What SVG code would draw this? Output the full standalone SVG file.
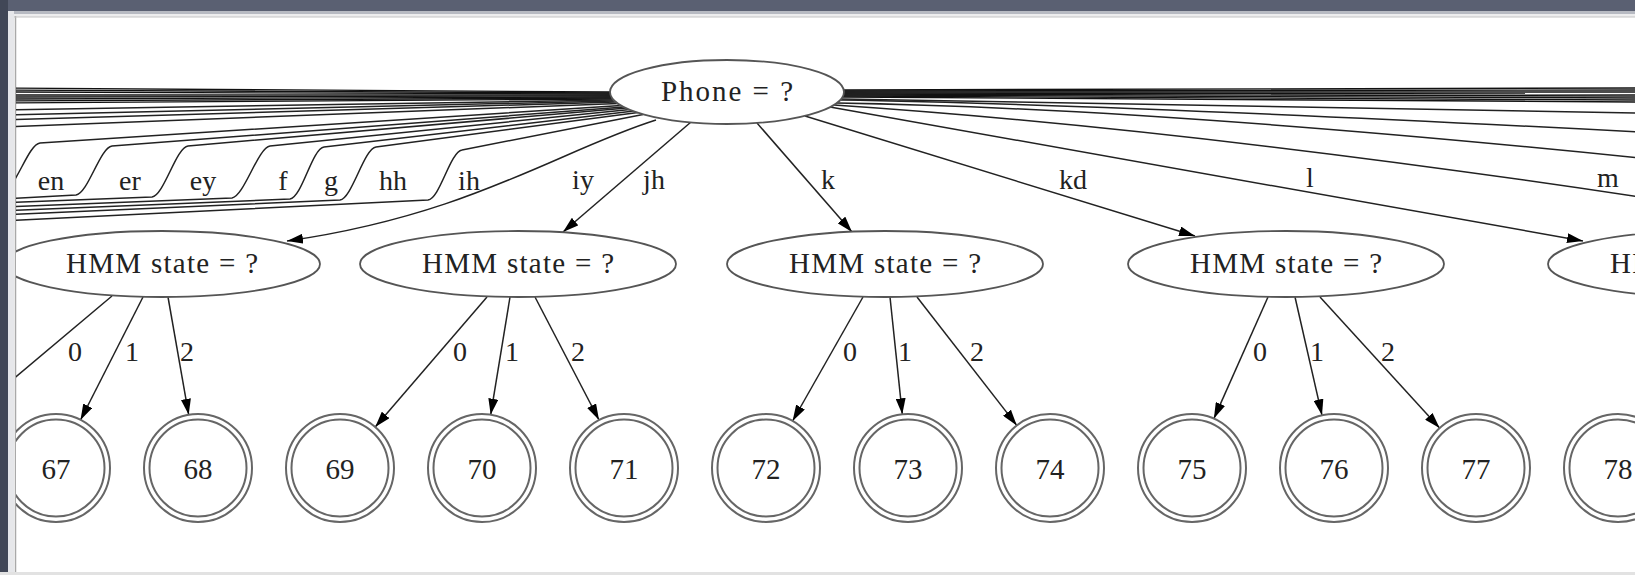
<svg xmlns="http://www.w3.org/2000/svg" width="1635" height="575" viewBox="0 0 1635 575">
  <defs>
    <style>
      .edge { fill: none; stroke: #222; stroke-width: 1.5; }
      .bundle { fill: none; stroke: #111; stroke-width: 1.4; }
      .arrow { marker-end: url(#ah); }
      .ell { fill: #fff; stroke: #555; stroke-width: 1.8; }
      .ring { fill: #fff; stroke: #666; stroke-width: 2; }
      .ring2 { fill: none; stroke: #666; stroke-width: 2; }
      text { font-family: "Liberation Serif", "Times New Roman", serif; fill: #222; text-anchor: middle; }
      .nlabel { font-size: 29px; }
      .elabel { font-size: 28px; }
      .leaf { font-size: 29px; }
    </style>
    <marker id="ah" viewBox="0 0 16 10" refX="16" refY="5" markerWidth="16" markerHeight="10" markerUnits="userSpaceOnUse" orient="auto">
      <path d="M0,0 L16,5 L0,10 z" fill="#000"/>
    </marker>
    <clipPath id="canvas">
      <rect x="16" y="18" width="1619" height="554"/>
    </clipPath>
  </defs>

  <!-- window frame -->
  <rect width="1635" height="575" fill="#fff"/>
  <rect x="0" y="0" width="1635" height="11" fill="#5a6072"/>
  <rect x="0" y="11" width="1635" height="3" fill="#b7bac2"/>
  <rect x="0" y="14" width="1635" height="3" fill="#ededee"/>
  <rect x="0" y="0" width="8" height="575" fill="#414757"/>
  <rect x="8" y="11" width="6" height="564" fill="#e6e7ea"/>
  <line x1="15.5" y1="16" x2="15.5" y2="575" stroke="#a9a9a9" stroke-width="1.5"/>
  <line x1="14" y1="17" x2="1635" y2="17" stroke="#c4c4c4" stroke-width="1.2"/>
  <rect x="0" y="572" width="1635" height="3" fill="#e2e2e2"/>

  <g clip-path="url(#canvas)">
    <g id="connectors">
      <!-- bundle of edges running left out of view -->
      <path class="bundle" d="M610,92 L0,88"/>
      <path class="bundle" d="M610,93 L0,90"/>
      <path class="bundle" d="M611,94 L0,92"/>
      <path class="bundle" d="M611,95 L0,95"/>
      <path class="bundle" d="M611,96 L0,97"/>
      <path class="bundle" d="M612,97 L0,99"/>
      <path class="bundle" d="M612,98 L0,101"/>
      <path class="bundle" d="M613,99 L0,103"/>
      <path class="edge" d="M613,100 L0,110"/>
      <path class="edge" d="M614,101 L0,115"/>
      <path class="edge" d="M616,102 L0,120"/>
      <path class="edge" d="M618,103.5 L0,127"/>

      <!-- edges that drop to the lower lane and continue left -->
      <path class="edge" d="M621,105.5 L40,143 C28,144.5 16,188.5 4,190 L-20,191"/>
      <path class="edge" d="M624,107 L112,146 C100,147.5 88,193.5 76,195 L0,199"/>
      <path class="edge" d="M627,108 L188,146 C176,147.5 164,195.5 152,197 L0,203"/>
      <path class="edge" d="M630,109.5 L270,146 C258,147.5 244,196.5 232,198 L0,207"/>
      <path class="edge" d="M634,111 L324,147 C312,148.5 302,197.5 290,199 L0,211"/>
      <path class="edge" d="M638,112.5 L376,147 C364,148.5 352,198.5 340,200 L0,215"/>
      <path class="edge" d="M643,114.5 L462,150 C450,152 440,198.5 428,200 L0,221"/>

      <!-- Phone -> HMM state edges -->
      <path class="edge arrow" d="M656,120 C560,150 470,215 287,241"/>
      <path class="edge arrow" d="M691,122 L563,232"/>
      <path class="edge arrow" d="M757,123 L852,232"/>
      <path class="edge arrow" d="M805,116 L1195,236"/>
      <path class="edge arrow" d="M830,107 L1583,241"/>

      <!-- edges running right out of view -->
      <path class="edge" d="M834,105 Q1180,128 1640,197"/>
      <path class="edge" d="M837,103 Q1150,108 1640,158"/>
      <path class="edge" d="M840,100 Q1100,104 1640,132"/>
      <path class="edge" d="M841,99 L1640,113"/>
      <path class="bundle" d="M842,97 L1640,102"/>
      <path class="bundle" d="M843,96 L1640,100"/>
      <path class="bundle" d="M843,95 L1640,98"/>
      <path class="bundle" d="M844,94 L1640,96"/>
      <path class="bundle" d="M844,93 L1640,94"/>
      <path class="bundle" d="M844,92 L1640,92"/>
      <path class="bundle" d="M844,91 L1640,90"/>
      <path class="bundle" d="M844,90 L1640,88"/>

      <!-- HMM state -> leaf edges -->
      <path class="edge" d="M112,296 L-40,424"/>
      <path class="edge arrow" d="M143,297 L80.5,420"/>
      <path class="edge arrow" d="M168,297 L188.7,414.8"/>
      <path class="edge arrow" d="M487,297 L375.2,427.1"/>
      <path class="edge arrow" d="M510,297 L490.7,414.7"/>
      <path class="edge arrow" d="M535,297 L599,420"/>
      <path class="edge arrow" d="M863,297 L792.6,421"/>
      <path class="edge arrow" d="M890,297 L902.3,414.3"/>
      <path class="edge arrow" d="M917,297 L1016.8,425.4"/>
      <path class="edge arrow" d="M1268,297 L1213.9,418.6"/>
      <path class="edge arrow" d="M1295,297 L1322,415.3"/>
      <path class="edge arrow" d="M1320,297 L1439.6,428.1"/>

      <!-- edge labels -->
      <g class="elabel">
        <text x="51" y="190" class="elabel">en</text>
        <text x="130" y="190" class="elabel">er</text>
        <text x="203" y="190" class="elabel">ey</text>
        <text x="283" y="190" class="elabel">f</text>
        <text x="331" y="190" class="elabel">g</text>
        <text x="393" y="190" class="elabel">hh</text>
        <text x="469" y="190" class="elabel">ih</text>
        <text x="583" y="189" class="elabel">iy</text>
        <text x="654" y="189" class="elabel">jh</text>
        <text x="828" y="189" class="elabel">k</text>
        <text x="1073" y="189" class="elabel">kd</text>
        <text x="1310" y="187" class="elabel">l</text>
        <text x="1608" y="187" class="elabel">m</text>

        <text x="75" y="361" class="elabel">0</text>
        <text x="132" y="361" class="elabel">1</text>
        <text x="187" y="361" class="elabel">2</text>
        <text x="460" y="361" class="elabel">0</text>
        <text x="512" y="361" class="elabel">1</text>
        <text x="578" y="361" class="elabel">2</text>
        <text x="850" y="361" class="elabel">0</text>
        <text x="905" y="361" class="elabel">1</text>
        <text x="977" y="361" class="elabel">2</text>
        <text x="1260" y="361" class="elabel">0</text>
        <text x="1317" y="361" class="elabel">1</text>
        <text x="1388" y="361" class="elabel">2</text>
      </g>
    </g>

    <!-- question nodes -->
    <g id="node-phone">
      <ellipse class="ell" cx="727" cy="92" rx="117" ry="32"/>
      <text class="nlabel" x="727" y="101" textLength="132" lengthAdjust="spacing">Phone = ?</text>
    </g>
    <g id="node-hmm-iy">
      <ellipse class="ell" cx="162" cy="264" rx="158" ry="33"/>
      <text class="nlabel" x="162" y="273" textLength="192" lengthAdjust="spacing">HMM state = ?</text>
    </g>
    <g id="node-hmm-jh">
      <ellipse class="ell" cx="518" cy="264" rx="158" ry="33"/>
      <text class="nlabel" x="518" y="273" textLength="192" lengthAdjust="spacing">HMM state = ?</text>
    </g>
    <g id="node-hmm-k">
      <ellipse class="ell" cx="885" cy="264" rx="158" ry="33"/>
      <text class="nlabel" x="885" y="273" textLength="192" lengthAdjust="spacing">HMM state = ?</text>
    </g>
    <g id="node-hmm-kd">
      <ellipse class="ell" cx="1286" cy="264" rx="158" ry="33"/>
      <text class="nlabel" x="1286" y="273" textLength="192" lengthAdjust="spacing">HMM state = ?</text>
    </g>
    <g id="node-hmm-l">
      <ellipse class="ell" cx="1706" cy="264" rx="158" ry="33"/>
      <text class="nlabel" x="1706" y="273" textLength="192" lengthAdjust="spacing">HMM state = ?</text>
    </g>

    <!-- leaf nodes -->
    <g id="leaf-67"><circle class="ring" cx="56" cy="468" r="54"/><circle class="ring2" cx="56" cy="468" r="48.5"/><text class="leaf" x="56" y="479">67</text></g>
    <g id="leaf-68"><circle class="ring" cx="198" cy="468" r="54"/><circle class="ring2" cx="198" cy="468" r="48.5"/><text class="leaf" x="198" y="479">68</text></g>
    <g id="leaf-69"><circle class="ring" cx="340" cy="468" r="54"/><circle class="ring2" cx="340" cy="468" r="48.5"/><text class="leaf" x="340" y="479">69</text></g>
    <g id="leaf-70"><circle class="ring" cx="482" cy="468" r="54"/><circle class="ring2" cx="482" cy="468" r="48.5"/><text class="leaf" x="482" y="479">70</text></g>
    <g id="leaf-71"><circle class="ring" cx="624" cy="468" r="54"/><circle class="ring2" cx="624" cy="468" r="48.5"/><text class="leaf" x="624" y="479">71</text></g>
    <g id="leaf-72"><circle class="ring" cx="766" cy="468" r="54"/><circle class="ring2" cx="766" cy="468" r="48.5"/><text class="leaf" x="766" y="479">72</text></g>
    <g id="leaf-73"><circle class="ring" cx="908" cy="468" r="54"/><circle class="ring2" cx="908" cy="468" r="48.5"/><text class="leaf" x="908" y="479">73</text></g>
    <g id="leaf-74"><circle class="ring" cx="1050" cy="468" r="54"/><circle class="ring2" cx="1050" cy="468" r="48.5"/><text class="leaf" x="1050" y="479">74</text></g>
    <g id="leaf-75"><circle class="ring" cx="1192" cy="468" r="54"/><circle class="ring2" cx="1192" cy="468" r="48.5"/><text class="leaf" x="1192" y="479">75</text></g>
    <g id="leaf-76"><circle class="ring" cx="1334" cy="468" r="54"/><circle class="ring2" cx="1334" cy="468" r="48.5"/><text class="leaf" x="1334" y="479">76</text></g>
    <g id="leaf-77"><circle class="ring" cx="1476" cy="468" r="54"/><circle class="ring2" cx="1476" cy="468" r="48.5"/><text class="leaf" x="1476" y="479">77</text></g>
    <g id="leaf-78"><circle class="ring" cx="1618" cy="468" r="54"/><circle class="ring2" cx="1618" cy="468" r="48.5"/><text class="leaf" x="1618" y="479">78</text></g>
  </g>
</svg>
